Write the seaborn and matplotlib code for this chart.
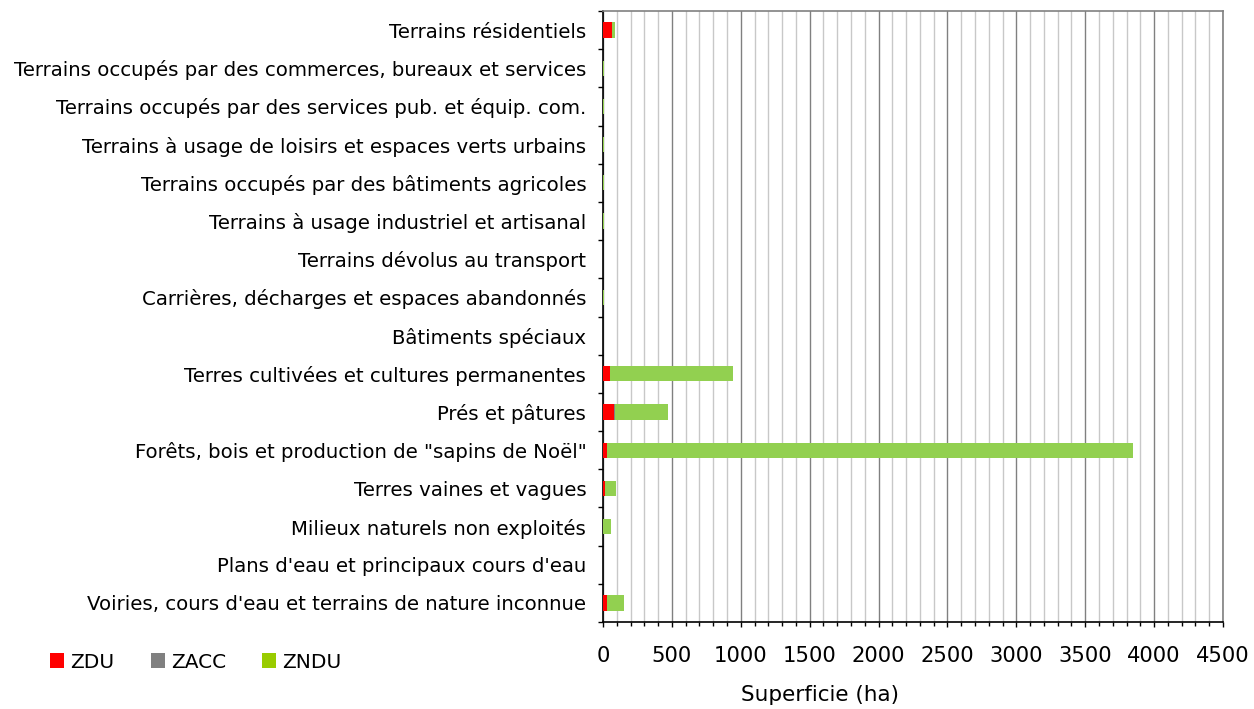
import matplotlib
matplotlib.use("Agg")
import matplotlib.pyplot as plt
import seaborn as sns
import pandas as pd
import numpy as np
from matplotlib.ticker import MultipleLocator, FixedLocator
from matplotlib.patches import Patch

categories = [
    "Terrains résidentiels",
    "Terrains occupés par des commerces, bureaux et services",
    "Terrains occupés par des services pub. et équip. com.",
    "Terrains à usage de loisirs et espaces verts urbains",
    "Terrains occupés par des bâtiments agricoles",
    "Terrains à usage industriel et artisanal",
    "Terrains dévolus au transport",
    "Carrières, décharges et espaces abandonnés",
    "Bâtiments spéciaux",
    "Terres cultivées et cultures permanentes",
    "Prés et pâtures",
    "Forêts, bois et production de \"sapins de Noël\"",
    "Terres vaines et vagues",
    "Milieux naturels non exploités",
    "Plans d'eau et principaux cours d'eau",
    "Voiries, cours d'eau et terrains de nature inconnue",
]
zdu = [65, 0, 0, 0, 1, 0, 0, 0, 0, 50, 80, 30, 15, 2, 0, 30]
zacc = [3, 0, 0, 0, 0, 0, 0, 0, 0, 2, 7, 0, 0, 0, 0, 0]
zndu = [18, 5, 5, 8, 6, 5, 0, 5, 0, 895, 383, 3819, 79, 54, 0, 122]
series_names = ["ZDU", "ZACC", "ZNDU"]

red = "#FF0000"
grey = "#808080"
green_bar = "#92D050"
green_leg = "#99CC00"

sns.set_style("white")
plt.rcParams['font.family'] = ['DejaVu Sans']
plt.rcParams['text.color'] = 'black'
plt.rcParams['xtick.labelcolor'] = 'black'
plt.rcParams['ytick.labelcolor'] = 'black'

fig = plt.figure(figsize=(12.54, 7.09), dpi=100)
ax = fig.add_axes([603/1254, 1-622/709, 620/1254, 611/709])

df = pd.DataFrame({"cat": categories, "ZDU": zdu, "ZACC": zacc, "ZNDU": zndu})
df["c1"] = df["ZDU"]
df["c2"] = df["ZDU"] + df["ZACC"]
df["c3"] = df["c2"] + df["ZNDU"]

for col, color in [("c3", green_bar), ("c2", grey), ("c1", red)]:
    sns.barplot(data=df, x=col, y="cat", order=categories, orient="h",
                color=color, width=0.4, linewidth=0, saturation=1, ax=ax, zorder=3)

ax.set_xlim(0, 4500)
ax.set_ylim(len(categories) - 0.5, -0.5)
ax.set_xlabel("")
ax.set_ylabel("")

ax.xaxis.set_major_locator(MultipleLocator(500))
ax.xaxis.set_minor_locator(MultipleLocator(100))
ax.grid(which="minor", axis="x", color="#c8c8c8", lw=1, zorder=0)
ax.grid(which="major", axis="x", color="#808080", lw=1, zorder=0)
ax.grid(which="major", axis="y", visible=False)
ax.set_axisbelow(True)

ax.yaxis.set_minor_locator(FixedLocator(np.arange(-0.5, len(categories), 1.0)))
ax.tick_params(axis="y", which="major", length=0, pad=12, labelsize=14.2, labelcolor="black")
ax.tick_params(axis="y", which="minor", length=3.6, width=1, color="black", direction="out", left=True)
ax.tick_params(axis="x", which="major", length=3.6, width=1, color="black", direction="out",
               bottom=True, pad=14, labelsize=15.2, labelcolor="black")
ax.tick_params(axis="x", which="minor", length=3, width=1, color="black", direction="out", bottom=True)

for s in ["left", "bottom"]:
    ax.spines[s].set_color("black")
    ax.spines[s].set_linewidth(1.2)
for s in ["top", "right"]:
    ax.spines[s].set_color("#808080")
    ax.spines[s].set_linewidth(1.2)
    ax.spines[s].set_visible(True)

fig.text(820/1254, 1-695/709, "Superficie (ha)", ha="center", va="center", fontsize=15.5, color="black")

handles = [Patch(facecolor=c, edgecolor="none") for c in [red, grey, green_leg]]
fig.legend(handles, series_names, loc="center left", bbox_to_anchor=(50/1254, 1-662/709),
           ncol=3, frameon=False, handlelength=0.7, handleheight=0.7, handletextpad=0.3,
           columnspacing=1.8, fontsize=14.5, borderaxespad=0, borderpad=0, labelcolor="black")

fig.savefig("out.png", dpi=100)
